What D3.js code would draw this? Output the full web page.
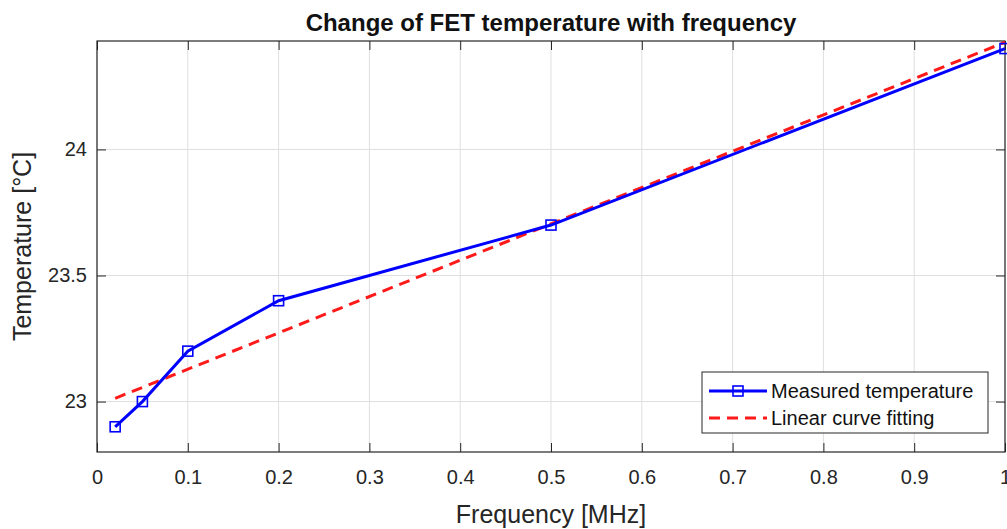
<!DOCTYPE html>
<html>
<head>
<meta charset="utf-8">
<script src="https://cdn.jsdelivr.net/npm/d3@7"></script>
<style>
  body { margin: 0; background: #fff; }
  svg { font-family: "Liberation Sans", Arial, sans-serif; }
</style>
</head>
<body>
<svg id="chart"></svg>
<script>
// Measured points
const freq = [0.02, 0.05, 0.1, 0.2, 0.5, 1.0];
const temp = [22.9, 23.0, 23.2, 23.4, 23.7, 24.4];

// Linear fit endpoints
const fitFreq = [0.02, 1.0];
const fitTemp = [23.013, 24.425];

const xTicks = [0, 0.1, 0.2, 0.3, 0.4, 0.5, 0.6, 0.7, 0.8, 0.9, 1];
const yTicks = [23, 23.5, 24];

const width = 1007;
const height = 529;
const margin = { top: 41, right: 2, bottom: 77, left: 97 };
const innerW = width - margin.left - margin.right;
const innerH = height - margin.top - margin.bottom;
const axisColor = "#262626";

const svg = d3.select("#chart")
  .attr("width", width)
  .attr("height", height);

const x = d3.scaleLinear().domain([0, 1]).range([0, innerW]);
const y = d3.scaleLinear().domain([22.8, 24.43]).range([innerH, 0]);

const g = svg.append("g")
  .attr("transform", `translate(${margin.left},${margin.top})`);

// Grid
g.selectAll(".vgrid")
  .data(xTicks)
  .enter()
  .append("line")
  .attr("x1", d => x(d)).attr("x2", d => x(d))
  .attr("y1", 0).attr("y2", innerH)
  .attr("stroke", "#dfdfdf").attr("stroke-width", 1);

g.selectAll(".hgrid")
  .data(yTicks)
  .enter()
  .append("line")
  .attr("x1", 0).attr("x2", innerW)
  .attr("y1", d => y(d)).attr("y2", d => y(d))
  .attr("stroke", "#dfdfdf").attr("stroke-width", 1);

// Axes (ticks inward, box on)
function styleAxis(sel) {
  sel.select(".domain").remove();
  sel.selectAll(".tick line").attr("stroke", axisColor).attr("stroke-width", 1);
  sel.selectAll(".tick text")
    .attr("fill", axisColor)
    .style("font-size", "20px");
}

g.append("g")
  .attr("transform", `translate(0,${innerH})`)
  .call(d3.axisBottom(x).tickValues(xTicks).tickSize(-9).tickPadding(18).tickFormat(d3.format("")))
  .call(styleAxis);

g.append("g")
  .call(d3.axisTop(x).tickValues(xTicks).tickSize(-9).tickFormat(""))
  .call(styleAxis);

g.append("g")
  .call(d3.axisLeft(y).tickValues(yTicks).tickSize(-9).tickPadding(10).tickFormat(d3.format("")))
  .call(styleAxis);

g.append("g")
  .attr("transform", `translate(${innerW},0)`)
  .call(d3.axisRight(y).tickValues(yTicks).tickSize(-9).tickFormat(""))
  .call(styleAxis);

g.append("rect")
  .attr("width", innerW).attr("height", innerH)
  .attr("fill", "none")
  .attr("stroke", axisColor)
  .attr("stroke-width", 1.2);

// Fit line
const line = d3.line().x(d => x(d[0])).y(d => y(d[1]));

g.append("path")
  .datum(d3.zip(fitFreq, fitTemp))
  .attr("d", line)
  .attr("fill", "none")
  .attr("stroke", "#ff1a1a")
  .attr("stroke-width", 3)
  .attr("stroke-dasharray", "11,7");

// Measured line
g.append("path")
  .datum(d3.zip(freq, temp))
  .attr("d", line)
  .attr("fill", "none")
  .attr("stroke", "#0000ff")
  .attr("stroke-width", 3);

g.selectAll(".marker")
  .data(d3.zip(freq, temp))
  .enter()
  .append("rect")
  .attr("x", d => x(d[0]) - 5)
  .attr("y", d => y(d[1]) - 5)
  .attr("width", 10).attr("height", 10)
  .attr("fill", "none")
  .attr("stroke", "#0000ff")
  .attr("stroke-width", 1.6);

// Title and labels
svg.append("text")
  .attr("x", margin.left + innerW / 2)
  .attr("y", 31)
  .attr("text-anchor", "middle")
  .style("font-size", "24px")
  .style("font-weight", "bold")
  .attr("fill", "#111")
  .text("Change of FET temperature with frequency");

svg.append("text")
  .attr("x", margin.left + innerW / 2)
  .attr("y", 523)
  .attr("text-anchor", "middle")
  .style("font-size", "25px")
  .attr("fill", axisColor)
  .text("Frequency [MHz]");

svg.append("text")
  .attr("transform", `translate(31,${margin.top + innerH / 2}) rotate(-90)`)
  .attr("text-anchor", "middle")
  .style("font-size", "25px")
  .attr("fill", axisColor)
  .text("Temperature [°C]");

// Legend
const legend = svg.append("g").attr("transform", "translate(702,372)");
legend.append("rect")
  .attr("width", 286).attr("height", 61)
  .attr("fill", "#fff")
  .attr("stroke", axisColor)
  .attr("stroke-width", 1);

legend.append("line")
  .attr("x1", 7).attr("x2", 65).attr("y1", 19).attr("y2", 19)
  .attr("stroke", "#0000ff").attr("stroke-width", 3);
legend.append("rect")
  .attr("x", 31).attr("y", 14).attr("width", 10).attr("height", 10)
  .attr("fill", "none").attr("stroke", "#0000ff").attr("stroke-width", 1.6);
legend.append("line")
  .attr("x1", 7).attr("x2", 65).attr("y1", 46).attr("y2", 46)
  .attr("stroke", "#ff1a1a").attr("stroke-width", 3)
  .attr("stroke-dasharray", "11,7");

legend.selectAll(".ltext")
  .data(["Measured temperature", "Linear curve fitting"])
  .enter()
  .append("text")
  .attr("x", 69)
  .attr("y", (d, i) => 26 + i * 27)
  .style("font-size", "20px")
  .attr("fill", "#111")
  .text(d => d);
</script>
</body>
</html>
